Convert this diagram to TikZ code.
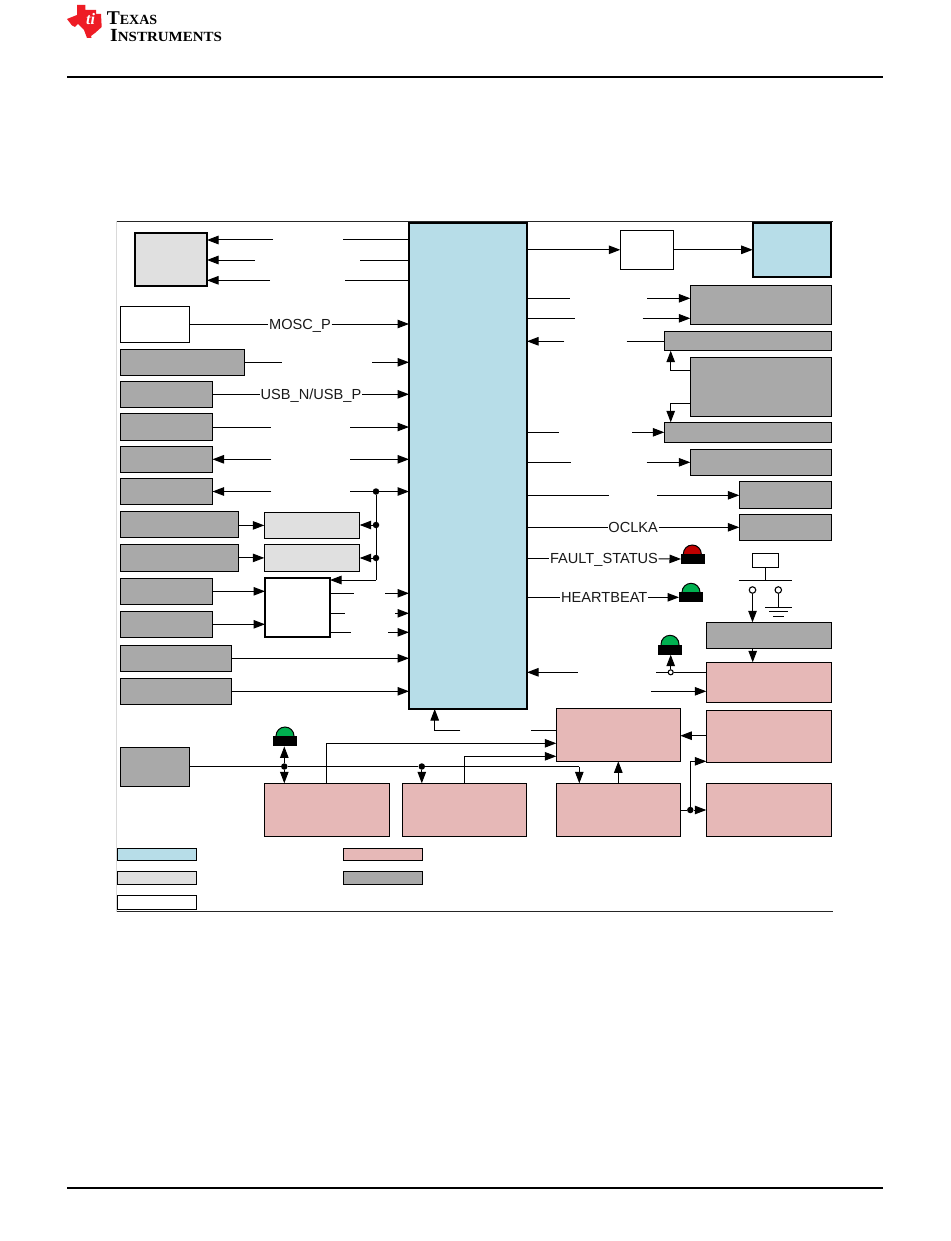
\documentclass[tikz,border=0pt]{standalone}
\usepackage{fontspec}
\setmainfont{Liberation Sans}
\newfontfamily\logofont{Liberation Serif}
\usetikzlibrary{arrows.meta}
\definecolor{cpublue}{HTML}{B7DDE8}
\definecolor{lightbox}{HTML}{E0E0E0}
\definecolor{graybox}{HTML}{A9A9A9}
\definecolor{pinkbox}{HTML}{E6B8B7}
\definecolor{ledred}{HTML}{C00000}
\definecolor{ledgreen}{HTML}{00B050}
\definecolor{tired}{HTML}{EE1C25}
\tikzset{
    block/.style={draw=black, line width=1pt, anchor=north west, inner sep=0pt, outer sep=0pt},
    gray block/.style={block, fill=graybox},
    pink block/.style={block, fill=pinkbox},
    light block/.style={block, fill=lightbox},
    white block/.style={block, fill=white},
    heavy/.style={line width=2pt},
    sig/.style={line width=1pt, -{Triangle[length=11.5pt,width=8.5pt]}},
    wire/.style={line width=1pt},
    netname/.style={font=\fontsize{14.6}{16}\selectfont, text=black!90, inner sep=0.5pt, text height=10.6pt, text depth=0pt},
    jdot/.style={circle, fill=black, inner sep=0pt, minimum size=6.5pt},
    ring/.style={circle, draw=black, fill=white, line width=1.1pt, inner sep=0pt, minimum size=#1},
    dome/.style={circle, draw=black, line width=1pt, inner sep=0pt, minimum size=18pt},
    ledbase/.style={fill=black, inner sep=0pt, minimum width=24pt, minimum height=10pt}
}
\begin{document}
\begin{tikzpicture}[x=1pt, y=-1pt]
    \useasboundingbox (0,0) rectangle (950,1241);
    \fill[white] (0,0) rectangle (950,1241);

    \fill[tired] (77,5) -- (85.3,5) -- (85.3,10) -- (96,10) -- (96,14) -- (101,14) -- (101.7,27) -- (95,33) -- (91,36) -- (91.5,38) -- (87,38) -- (84,30) -- (78,24) -- (75,27) -- (72,25.5) -- (67,19) -- (77,15) -- cycle;
    \node[font=\logofont\bfseries\itshape\fontsize{16}{16}\selectfont, text=white, inner sep=0pt] (logoti) at (90.5,19) {ti};
    \node[font=\logofont\bfseries, anchor=base west, inner sep=0pt] (logotop) at (106.7,25) {\fontsize{19.5}{19.5}\selectfont T\fontsize{14}{14}\selectfont EXAS};
    \node[font=\logofont\bfseries, anchor=base west, inner sep=0pt, xscale=1.07] (logobot) at (110,41.5) {\fontsize{18.5}{18.5}\selectfont I\fontsize{14}{14}\selectfont NSTRUMENTS};
    \draw[line width=2pt] (67,77) -- (883,77);
    \draw[line width=2pt] (67,1188) -- (883,1188);

    \draw[black!85, line width=0.8pt] (117,221.3) -- (833,221.3);
    \draw[black!85, line width=0.8pt] (117,911.5) -- (833,911.5);
    \draw[black!15, line width=1pt] (116.5,221.3) -- (116.5,911.5);

    \node[block, heavy, fill=cpublue, minimum width=118, minimum height=486] (main) at (409,223) {};

    \node[light block, heavy, minimum width=72, minimum height=53] (memory) at (135,233) {};
    \node[white block, minimum width=69, minimum height=36] (osc) at (120.5,306.5) {};
    \node[gray block, minimum width=124, minimum height=26] (eth) at (120.5,349.3) {};
    \node[gray block, minimum width=92, minimum height=26] (usb) at (120.5,381.3) {};
    \node[gray block, minimum width=92, minimum height=27] (uarta) at (120.5,413.3) {};
    \node[gray block, minimum width=92, minimum height=26] (uartb) at (120.5,446.3) {};
    \node[gray block, minimum width=92, minimum height=26] (uartc) at (120.5,478.3) {};
    \node[gray block, minimum width=118, minimum height=26] (pwra) at (120.5,511.5) {};
    \node[gray block, minimum width=118, minimum height=27] (pwrb) at (120.5,544.3) {};
    \node[gray block, minimum width=92, minimum height=26] (adca) at (120.5,578.3) {};
    \node[gray block, minimum width=92, minimum height=26] (adcb) at (120.5,611.3) {};
    \node[gray block, minimum width=111, minimum height=26] (sensa) at (120.5,645.3) {};
    \node[gray block, minimum width=111, minimum height=26] (sensb) at (120.5,678.3) {};
    \node[gray block, minimum width=69, minimum height=39] (supply) at (120.5,747.3) {};
    \node[light block, minimum width=95.4, minimum height=25.8] (lvla) at (264.3,512.5) {};
    \node[light block, minimum width=95.4, minimum height=26.8] (lvlb) at (264.3,544.5) {};
    \node[white block, heavy, minimum width=65, minimum height=59] (mux) at (265,577.7) {};

    \node[white block, minimum width=53.4, minimum height=39] (drv) at (620.3,230.3) {};
    \node[block, heavy, fill=cpublue, minimum width=78.3, minimum height=53.7] (fpga) at (752.7,223) {};
    \node[gray block, minimum width=141.4, minimum height=39] (flash) at (690.3,285.3) {};
    \node[gray block, minimum width=167.4, minimum height=19.4] (ctla) at (664.3,331.3) {};
    \node[gray block, minimum width=141.4, minimum height=59] (hdr) at (690.3,357.3) {};
    \node[gray block, minimum width=167.4, minimum height=20.4] (ctlb) at (664.3,422.3) {};
    \node[gray block, minimum width=141.4, minimum height=26] (ser) at (690.3,449.3) {};
    \node[gray block, minimum width=92.4, minimum height=27] (clka) at (739.3,481.3) {};
    \node[gray block, minimum width=92.4, minimum height=26] (clkb) at (739.3,514.3) {};
    \node[gray block, minimum width=125.4, minimum height=26] (rst) at (706.3,622.3) {};

    \node[pink block, minimum width=125.4, minimum height=40] (pmon) at (706.3,662.3) {};
    \node[pink block, minimum width=125.4, minimum height=52] (preg) at (706.3,710.3) {};
    \node[pink block, minimum width=125.4, minimum height=53] (pbuck) at (706.3,783.3) {};
    \node[pink block, minimum width=124, minimum height=53] (pseq) at (556.3,708.3) {};
    \node[pink block, minimum width=124, minimum height=53] (pldo) at (556.3,783.3) {};
    \node[pink block, minimum width=125, minimum height=53] (pconva) at (264.3,783.3) {};
    \node[pink block, minimum width=124.4, minimum height=53] (pconvb) at (402.3,783.3) {};

    \node[block, fill=cpublue, minimum width=79.4, minimum height=12] (keyblue) at (117.3,848.7) {};
    \node[light block, minimum width=79.4, minimum height=13.4] (keylight) at (117.3,871.3) {};
    \node[white block, minimum width=79.4, minimum height=14.4] (keywhite) at (117.3,895.3) {};
    \node[pink block, minimum width=79.4, minimum height=12] (keypink) at (343.3,848.7) {};
    \node[gray block, minimum width=79.4, minimum height=13.4] (keygray) at (343.3,871.3) {};

    \node[dome, fill=ledred] (domefault) at (692.3,554) {};
    \node[ledbase, anchor=west] (ledfault) at (681,559) {};
    \node[dome, fill=ledgreen] (domebeat) at (691,592.3) {};
    \node[ledbase, anchor=west] (ledbeat) at (679,597.3) {};
    \node[dome, fill=ledgreen] (domemon) at (670,644.3) {};
    \node[ledbase, anchor=north] (ledmon) at (670,644.3) {};
    \node[dome, fill=ledgreen] (domepwr) at (285,736) {};
    \node[ledbase, anchor=north] (ledpwr) at (285,736) {};

    \coordinate (ml1) at (342.7,240);
    \coordinate (ml1b) at (273,240);
    \coordinate (ml2) at (360,260);
    \coordinate (ml2b) at (255,260);
    \coordinate (ml3) at (345,280.3);
    \coordinate (ml3b) at (270,280.3);
    \draw[wire] (main.west |- ml1) -- (ml1);
    \draw[sig] (ml1b) -- (memory.east |- ml1b);
    \draw[wire] (main.west |- ml2) -- (ml2);
    \draw[sig] (ml2b) -- (memory.east |- ml2b);
    \draw[wire] (main.west |- ml3) -- (ml3);
    \draw[sig] (ml3b) -- (memory.east |- ml3b);

    \node[netname] (mosc) at (300,324) {MOSC\_P};
    \draw[wire] (osc.east |- mosc) -- (mosc);
    \draw[sig] (mosc) -- (main.west |- mosc);
    \node[netname] (usbnet) at (311,394.3) {USB\_N/USB\_P};
    \draw[wire] (usb.east |- usbnet) -- (usbnet);
    \draw[sig] (usbnet) -- (main.west |- usbnet);

    \coordinate (ea) at (281.7,362.3);
    \coordinate (eb) at (372.3,362.3);
    \draw[wire] (eth.east |- ea) -- (ea);
    \draw[sig] (eb) -- (main.west |- eb);
    \coordinate (ua) at (271.3,427);
    \coordinate (ub) at (350,427);
    \draw[wire] (uarta.east |- ua) -- (ua);
    \draw[sig] (ub) -- (main.west |- ub);
    \coordinate (uc) at (271.3,459.3);
    \coordinate (ud) at (350,459.3);
    \draw[sig] (uc) -- (uartb.east |- uc);
    \draw[sig] (ud) -- (main.west |- ud);
    \coordinate (ue) at (271.3,491.5);
    \coordinate (uf) at (350,491.5);
    \draw[sig] (ue) -- (uartc.east |- ue);
    \draw[sig] (uf) -- (main.west |- uf);

    \node[jdot] (j1) at (376,491.5) {};
    \node[jdot] (j2) at (376,525) {};
    \node[jdot] (j3) at (376,558) {};
    \coordinate (jend) at (376,580);
    \draw[wire] (j1) -- (jend);
    \draw[sig] (j2) -- (lvla.east |- j2);
    \draw[sig] (j3) -- (lvlb.east |- j3);
    \draw[sig] (jend) -- (mux.east |- jend);
    \draw[sig] (pwra.east |- lvla.east) -- (lvla.west);
    \draw[sig] (pwrb.east |- lvlb.east) -- (lvlb.west);
    \draw[sig] (adca.east) -- (mux.west |- adca.east);
    \draw[sig] (adcb.east) -- (mux.west |- adcb.east);

    \coordinate (xa) at (353.7,593.3);
    \coordinate (xb) at (385,593.3);
    \draw[wire] (mux.east |- xa) -- (xa);
    \draw[sig] (xb) -- (main.west |- xb);
    \coordinate (xc) at (344.7,613.3);
    \coordinate (xd) at (395,613.3);
    \draw[wire] (mux.east |- xc) -- (xc);
    \draw[sig] (xd) -- (main.west |- xd);
    \coordinate (xe) at (350.7,632.3);
    \coordinate (xf) at (388.3,632.3);
    \draw[wire] (mux.east |- xe) -- (xe);
    \draw[sig] (xf) -- (main.west |- xf);
    \draw[sig] (sensa.east) -- (main.west |- sensa.east);
    \draw[sig] (sensb.east) -- (main.west |- sensb.east);

    \coordinate (ba) at (434.7,730.3);
    \coordinate (bb) at (460.3,730.3);
    \coordinate (bc) at (531,730.3);
    \draw[sig] (bb) -- (ba) -- (ba |- main.south);
    \draw[wire] (bc) -- (pseq.west |- bc);

    \node[jdot] (jpwr) at (284.3,766.5) {};
    \node[jdot] (jconv) at (421.8,766.5) {};
    \coordinate (ldoin) at (579.3,766.5);
    \draw[wire] (supply.east |- jpwr) -- (jpwr) -- (jconv) -- (ldoin);
    \draw[sig] (ldoin) -- (ldoin |- pldo.north);
    \draw[sig] (jpwr) -- (jpwr |- ledpwr.south);
    \draw[sig] (jpwr) -- (jpwr |- pconva.north);
    \draw[sig] (jconv) -- (jconv |- pconvb.north);
    \coordinate (ca) at (326.7,743.3);
    \coordinate (cb) at (464.3,756.3);
    \draw[sig] (ca |- pconva.north) -- (ca) -- (pseq.west |- ca);
    \draw[sig] (cb |- pconvb.north) -- (cb) -- (pseq.west |- cb);
    \draw[sig] (pldo.north) -- (pseq.south);

    \node[jdot] (jbuck) at (690.3,810) {};
    \draw[wire] (pldo.east |- jbuck) -- (jbuck);
    \draw[sig] (jbuck) -- (pbuck.west |- jbuck);
    \coordinate (bend) at (690.3,761.3);
    \draw[sig] (jbuck) -- (bend) -- (preg.west |- bend);
    \coordinate (rg) at (706.3,735.7);
    \draw[sig] (rg) -- (pseq.east |- rg);

    \draw[sig] (main.east |- drv.west) -- (drv.west);
    \draw[sig] (drv.east) -- (fpga.west |- drv.east);

    \coordinate (fa) at (569.7,298.3);
    \coordinate (fb) at (647.3,298.3);
    \draw[wire] (main.east |- fa) -- (fa);
    \draw[sig] (fb) -- (flash.west |- fb);
    \coordinate (fc) at (574.7,318.3);
    \coordinate (fd) at (642.7,318.3);
    \draw[wire] (main.east |- fc) -- (fc);
    \draw[sig] (fd) -- (flash.west |- fd);
    \coordinate (ga) at (564.3,341.3);
    \coordinate (gb) at (626.7,341.3);
    \draw[sig] (ga) -- (main.east |- ga);
    \draw[wire] (gb) -- (ctla.west |- gb);

    \coordinate (ha) at (670.7,370.3);
    \coordinate (hb) at (670.7,403.3);
    \draw[sig] (hdr.west |- ha) -- (ha) -- (ha |- ctla.south);
    \draw[sig] (hdr.west |- hb) -- (hb) -- (hb |- ctlb.north);

    \coordinate (ia) at (558.7,432.3);
    \coordinate (ib) at (632.3,432.3);
    \draw[wire] (main.east |- ia) -- (ia);
    \draw[sig] (ib) -- (ctlb.west |- ib);
    \coordinate (ic) at (570.7,462.3);
    \coordinate (id) at (646.7,462.3);
    \draw[wire] (main.east |- ic) -- (ic);
    \draw[sig] (id) -- (ser.west |- id);
    \coordinate (ie) at (609.3,495.3);
    \coordinate (if) at (657,495.3);
    \draw[wire] (main.east |- ie) -- (ie);
    \draw[sig] (if) -- (clka.west |- if);

    \node[netname] (oclka) at (633.2,527.3) {OCLKA};
    \draw[wire] (main.east |- oclka) -- (oclka);
    \draw[sig] (oclka) -- (clkb.west |- oclka);
    \node[netname] (fault) at (604,558.3) {FAULT\_STATUS};
    \draw[wire] (main.east |- fault) -- (fault);
    \draw[sig] (fault) -- (ledfault.west);
    \node[netname] (beat) at (604.2,597.3) {HEARTBEAT};
    \draw[wire] (main.east |- beat) -- (beat);
    \draw[sig] (beat) -- (ledbeat.west);

    \node[white block, minimum width=26.4, minimum height=14.4] (jumper) at (752.3,553.3) {};
    \coordinate (jbus) at (765.5,580);
    \coordinate (jbl) at (738.7,580);
    \coordinate (jbr) at (792,580);
    \draw[wire] (jumper.south) -- (jbus);
    \draw[wire] (jbl) -- (jbr);
    \node[ring=6.5pt] (pina) at (752.5,590) {};
    \node[ring=6.5pt] (pinb) at (778.3,590) {};
    \draw[sig] (pina) -- (pina |- rst.north);
    \coordinate (gnd) at (778.3,607);
    \coordinate (gndl) at (765.3,607);
    \coordinate (gndr) at (792,607);
    \coordinate (gndml) at (769.3,611.7);
    \coordinate (gndmr) at (788,611.7);
    \coordinate (gndsl) at (773.3,616.3);
    \coordinate (gndsr) at (784,616.3);
    \draw[wire] (pinb) -- (gnd);
    \draw[wire] (gndl) -- (gndr);
    \draw[wire] (gndml) -- (gndmr);
    \draw[wire] (gndsl) -- (gndsr);
    \coordinate (rs) at (752.7,648.3);
    \draw[sig] (rs) -- (rs |- pmon.north);

    \node[ring=5pt] (tap) at (670.7,672.3) {};
    \coordinate (pa) at (656,672.3);
    \coordinate (pb) at (577.7,672.3);
    \draw[wire] (pa) -- (tap) -- (pmon.west |- tap);
    \draw[sig] (pb) -- (main.east |- pb);
    \draw[sig] (tap) -- (tap |- ledmon.south);
    \coordinate (pc) at (651,691.3);
    \draw[sig] (pc) -- (pmon.west |- pc);
\end{tikzpicture}
\end{document}
